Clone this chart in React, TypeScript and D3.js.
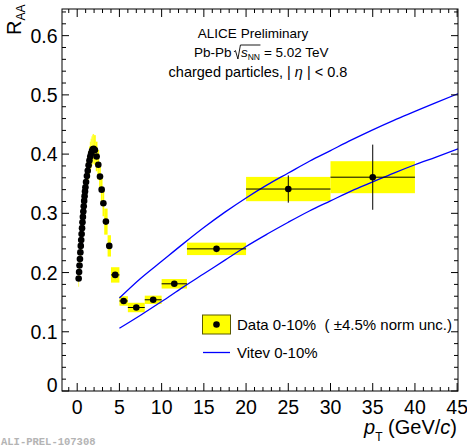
import React, { useEffect, useRef } from "react";
import * as d3 from "d3";

const WIDTH = 467;
const HEIGHT = 448;

const MARGIN = {
  TOP: 9,
  RIGHT: 9,
  BOTTOM: 57,
  LEFT: 62,
};

const FONT = "'Liberation Sans', Arial, Helvetica, sans-serif";

// pT bins (GeV/c)
const BIN_LOW = [
  0.15, 0.2, 0.25, 0.3, 0.35, 0.4, 0.45, 0.5, 0.55, 0.6, 0.65, 0.7, 0.75, 0.8, 0.85, 0.9, 0.95,
  1.0, 1.1, 1.2, 1.3, 1.4, 1.5, 1.6, 1.7, 1.8, 1.9,
  2.0, 2.2, 2.4, 2.6, 2.8, 3.0, 3.2, 3.6, 4.0,
  5, 6, 8, 10, 13, 20, 30,
];
const BIN_HIGH = [
  0.2, 0.25, 0.3, 0.35, 0.4, 0.45, 0.5, 0.55, 0.6, 0.65, 0.7, 0.75, 0.8, 0.85, 0.9, 0.95, 1.0,
  1.1, 1.2, 1.3, 1.4, 1.5, 1.6, 1.7, 1.8, 1.9, 2.0,
  2.2, 2.4, 2.6, 2.8, 3.0, 3.2, 3.6, 4.0, 5.0,
  6, 8, 10, 13, 20, 30, 40,
];
const PT = [
  0.175, 0.225, 0.275, 0.325, 0.375, 0.425, 0.475, 0.525, 0.575, 0.625, 0.675, 0.725, 0.775, 0.825, 0.875, 0.925, 0.975,
  1.05, 1.15, 1.25, 1.35, 1.45, 1.55, 1.65, 1.75, 1.85, 1.95,
  2.1, 2.3, 2.5, 2.7, 2.9, 3.1, 3.4, 3.8, 4.5,
  5.5, 7, 9, 11.5, 16.5, 25, 35,
];
const RAA = [
  0.19, 0.201, 0.212, 0.223, 0.234, 0.245, 0.255, 0.265, 0.275, 0.285, 0.294, 0.303, 0.312, 0.321, 0.329, 0.337, 0.344,
  0.353, 0.363, 0.372, 0.381, 0.389, 0.396, 0.401, 0.405, 0.408, 0.409,
  0.407, 0.396, 0.382, 0.362, 0.34, 0.317, 0.286, 0.245, 0.196,
  0.152, 0.141, 0.154, 0.181, 0.24, 0.341, 0.361,
];
const SYST = [
  0.014, 0.014, 0.015, 0.015, 0.016, 0.016, 0.017, 0.017, 0.018, 0.018, 0.019, 0.019, 0.02, 0.02, 0.021, 0.021, 0.022,
  0.022, 0.023, 0.023, 0.024, 0.024, 0.025, 0.025, 0.025, 0.025, 0.025,
  0.025, 0.025, 0.025, 0.024, 0.023, 0.022, 0.022, 0.018, 0.013,
  0.008, 0.008, 0.007, 0.008, 0.0105, 0.0205, 0.027,
];
const STAT = [
  0.001, 0.001, 0.001, 0.001, 0.001, 0.001, 0.001, 0.001, 0.001, 0.001, 0.001, 0.001, 0.001, 0.001, 0.001, 0.001, 0.001,
  0.001, 0.001, 0.001, 0.001, 0.001, 0.001, 0.001, 0.001, 0.001, 0.001,
  0.001, 0.001, 0.001, 0.001, 0.001, 0.001, 0.001, 0.001, 0.002,
  0.002, 0.002, 0.003, 0.004, 0.004, 0.023, 0.055,
];

// Vitev 0-10% band edges
const VITEV_PT = [5, 7.5, 10, 12.5, 15, 17.5, 20, 22.5, 25, 27.5, 30, 32.5, 35, 37.5, 40, 42.5, 45.1];
const VITEV_UPPER = [0.157, 0.19, 0.219, 0.248, 0.276, 0.302, 0.326, 0.348, 0.368, 0.388, 0.406, 0.424, 0.441, 0.457, 0.472, 0.487, 0.502];
const VITEV_LOWER = [0.106, 0.128, 0.151, 0.175, 0.198, 0.221, 0.244, 0.265, 0.285, 0.304, 0.321, 0.338, 0.353, 0.368, 0.382, 0.395, 0.409];

const X_TICKS = [0, 5, 10, 15, 20, 25, 30, 35, 40, 45];
const Y_TICKS = [0, 0.1, 0.2, 0.3, 0.4, 0.5, 0.6];

const MARKER_RADIUS = 3.3;

const Chart = () => {
  const svgRef = useRef<SVGSVGElement>(null);

  useEffect(() => {
    const svg = d3.select(svgRef.current);
    svg.selectAll("*").remove();

    const x0 = MARGIN.LEFT;
    const x1 = WIDTH - MARGIN.RIGHT;
    const y0 = HEIGHT - MARGIN.BOTTOM;
    const y1 = MARGIN.TOP;

    const xScale = d3.scaleLinear().domain([-1.8, 45.1]).range([x0, x1]);
    const yScale = d3.scaleLinear().domain([0, 0.645]).range([y0, y1]);

    const data = PT.map((pt, i) => ({
      pt,
      raa: RAA[i],
      lo: BIN_LOW[i],
      hi: BIN_HIGH[i],
      syst: SYST[i],
      stat: STAT[i],
    }));

    const clip = svg.append("defs").append("clipPath").attr("id", "frame-clip");
    clip.append("rect").attr("x", x0).attr("y", y1).attr("width", x1 - x0).attr("height", y0 - y1);

    const plot = svg.append("g").attr("clip-path", "url(#frame-clip)");

    // systematic boxes
    plot
      .selectAll("rect.syst")
      .data(data)
      .join("rect")
      .attr("class", "syst")
      .attr("x", (d) => xScale(d.lo))
      .attr("width", (d) => Math.max(xScale(d.hi) - xScale(d.lo), 0.6))
      .attr("y", (d) => yScale(d.raa + d.syst))
      .attr("height", (d) => yScale(d.raa - d.syst) - yScale(d.raa + d.syst))
      .attr("fill", "#ffff00");

    // model curves
    const line = d3
      .line<number>()
      .x((_, i) => xScale(VITEV_PT[i]))
      .y((d) => yScale(d))
      .curve(d3.curveMonotoneX);

    [VITEV_UPPER, VITEV_LOWER].forEach((values) => {
      plot
        .append("path")
        .attr("d", line(values))
        .attr("fill", "none")
        .attr("stroke", "#0000ff")
        .attr("stroke-width", 1.3);
    });

    // stat errors
    plot
      .selectAll("line.xerr")
      .data(data)
      .join("line")
      .attr("class", "xerr")
      .attr("x1", (d) => xScale(d.lo))
      .attr("x2", (d) => xScale(d.hi))
      .attr("y1", (d) => yScale(d.raa))
      .attr("y2", (d) => yScale(d.raa))
      .attr("stroke", "#000")
      .attr("stroke-width", 1);
    plot
      .selectAll("line.yerr")
      .data(data)
      .join("line")
      .attr("class", "yerr")
      .attr("x1", (d) => xScale(d.pt))
      .attr("x2", (d) => xScale(d.pt))
      .attr("y1", (d) => yScale(d.raa - d.stat))
      .attr("y2", (d) => yScale(d.raa + d.stat))
      .attr("stroke", "#000")
      .attr("stroke-width", 1);

    plot
      .selectAll("circle")
      .data(data)
      .join("circle")
      .attr("cx", (d) => xScale(d.pt))
      .attr("cy", (d) => yScale(d.raa))
      .attr("r", MARKER_RADIUS)
      .attr("fill", "#000");

    // frame
    svg
      .append("rect")
      .attr("x", x0)
      .attr("y", y1)
      .attr("width", x1 - x0)
      .attr("height", y0 - y1)
      .attr("fill", "none")
      .attr("stroke", "#000")
      .attr("stroke-width", 1);

    const ticks = svg.append("g").attr("stroke", "#000").attr("stroke-width", 1);
    const xMinor = d3.range(-1, 46, 1);
    xMinor.forEach((v) => {
      const len = v % 5 === 0 ? 8 : 4;
      const px = xScale(v);
      ticks.append("line").attr("x1", px).attr("x2", px).attr("y1", y0).attr("y2", y0 - len);
      ticks.append("line").attr("x1", px).attr("x2", px).attr("y1", y1).attr("y2", y1 + len);
    });
    const yMinor = d3.range(0, 33, 1).map((k) => k * 0.02);
    yMinor.forEach((v, k) => {
      const len = k % 5 === 0 ? 7 : 4;
      const py = yScale(v);
      ticks.append("line").attr("x1", x0).attr("x2", x0 + len).attr("y1", py).attr("y2", py);
      ticks.append("line").attr("x1", x1).attr("x2", x1 - len).attr("y1", py).attr("y2", py);
    });

    // tick labels
    svg
      .selectAll("text.xlab")
      .data(X_TICKS)
      .join("text")
      .attr("class", "xlab")
      .attr("x", (d) => xScale(d))
      .attr("y", 414)
      .attr("text-anchor", "middle")
      .attr("font-family", FONT)
      .attr("font-size", 19.5)
      .text((d) => d);
    svg
      .selectAll("text.ylab")
      .data(Y_TICKS)
      .join("text")
      .attr("class", "ylab")
      .attr("x", 57.5)
      .attr("y", (d) => yScale(d) + 7 - (d === 0 ? 6 : 0))
      .attr("text-anchor", "end")
      .attr("font-family", FONT)
      .attr("font-size", 19.5)
      .text((d) => (d === 0 ? "0" : d.toFixed(1)));

    // axis titles
    const xt = svg
      .append("text")
      .attr("x", 457)
      .attr("y", 434)
      .attr("text-anchor", "end")
      .attr("font-family", FONT)
      .attr("font-size", 20);
    xt.append("tspan").attr("font-style", "italic").text("p");
    xt.append("tspan").attr("font-size", 12).attr("dy", 7).text("T");
    xt.append("tspan").attr("dy", -7).text(" (GeV/");
    xt.append("tspan").attr("font-style", "italic").text("c");
    xt.append("tspan").text(")");

    const yt = svg
      .append("text")
      .attr("transform", "translate(21,35) rotate(-90)")
      .attr("font-family", FONT)
      .attr("font-size", 20);
    yt.append("tspan").text("R");
    yt.append("tspan").attr("font-size", 12).attr("dy", 4).text("AA");

    // header
    const header = svg.append("g").attr("font-family", FONT).attr("font-size", 13.5);
    header
      .append("text")
      .attr("x", 253)
      .attr("y", 38)
      .attr("text-anchor", "middle")
      .text("ALICE Preliminary");

    // Pb-Pb sqrt(s_NN) = 5.02 TeV, laid out piece by piece
    const baseY = 57;
    const pieces = header.append("g");
    const tPb = pieces.append("text").attr("y", baseY).text("Pb-Pb");
    const tS = pieces.append("text").attr("y", baseY).attr("font-style", "italic").text("s");
    const tNN = pieces.append("text").attr("y", baseY + 3).attr("font-size", 8.5).text("NN");
    const tEq = pieces.append("text").attr("y", baseY).text("= 5.02 TeV");
    const wPb = (tPb.node() as SVGTextElement).getComputedTextLength();
    const wS = (tS.node() as SVGTextElement).getComputedTextLength();
    const wNN = (tNN.node() as SVGTextElement).getComputedTextLength();
    const wEq = (tEq.node() as SVGTextElement).getComputedTextLength();
    const gapPb = 4;
    const radW = 5;
    const total = wPb + gapPb + radW + wS + wNN + 4 + wEq;
    const start = 261 - total / 2;
    const rx = start + wPb + gapPb;
    tPb.attr("x", start);
    tS.attr("x", rx + radW + 0.5);
    tNN.attr("x", rx + radW + 0.5 + wS);
    const overEnd = rx + radW + 0.5 + wS + wNN + 0.5;
    tEq.attr("x", overEnd + 3.5);
    pieces
      .append("path")
      .attr(
        "d",
        `M${rx - 1.5},${baseY - 5} L${rx},${baseY - 6.5} L${rx + 2.5},${baseY + 2} L${rx + radW},${baseY - 12} L${overEnd},${baseY - 12}`
      )
      .attr("fill", "none")
      .attr("stroke", "#000")
      .attr("stroke-width", 0.9);

    const l3 = header
      .append("text")
      .attr("x", 258)
      .attr("y", 77)
      .attr("text-anchor", "middle")
      .attr("font-size", 14.5)
      .style("white-space", "pre");
    l3.append("tspan").text("charged particles, | ");
    l3.append("tspan").attr("font-style", "italic").text("\u03b7");
    l3.append("tspan").text(" | < 0.8");

    // legend
    const legend = svg.append("g").attr("font-family", FONT).attr("font-size", 15);
    legend
      .append("rect")
      .attr("x", 202.5)
      .attr("y", 315)
      .attr("width", 28)
      .attr("height", 19)
      .attr("fill", "#ffff00")
      .attr("stroke", "#5a5a00")
      .attr("stroke-width", 1);
    legend.append("circle").attr("cx", 216.5).attr("cy", 324.5).attr("r", MARKER_RADIUS).attr("fill", "#000");
    legend
      .append("text")
      .attr("x", 237)
      .attr("y", 330)
      .style("white-space", "pre")
      .text("Data 0-10%  ( \u00b14.5% norm unc.)");
    legend
      .append("line")
      .attr("x1", 203)
      .attr("x2", 230)
      .attr("y1", 352.5)
      .attr("y2", 352.5)
      .attr("stroke", "#0000ff")
      .attr("stroke-width", 1.3);
    legend.append("text").attr("x", 237).attr("y", 358).text("Vitev 0-10%");

    // watermark
    svg
      .append("text")
      .attr("x", 1)
      .attr("y", 445)
      .attr("font-family", "'Liberation Mono', monospace")
      .attr("font-weight", "bold")
      .attr("font-size", 10.5)
      .attr("fill", "#b4b4b4")
      .text("ALI-PREL-107308");
  }, []);

  return (
    <svg
      ref={svgRef}
      width={WIDTH}
      height={HEIGHT}
      style={{ position: "absolute", left: 0, top: 0, background: "#fff" }}
    ></svg>
  );
};

export default function App() {
  return <Chart />;
}
